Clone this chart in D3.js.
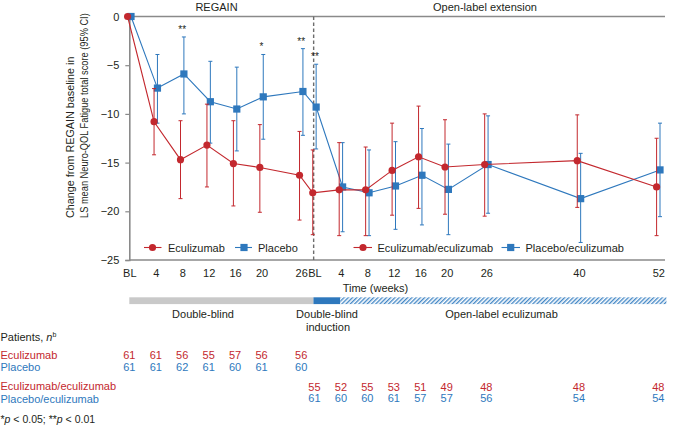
<!DOCTYPE html>
<html>
<head>
<meta charset="utf-8">
<script src="https://cdn.jsdelivr.net/npm/d3@7"></script>
<style>
  body { margin: 0; background: #fff; }
  svg { display: block; font-family: "Liberation Sans", Arial, Helvetica, sans-serif; }
</style>
</head>
<body>
<svg id="chart" width="673" height="427"></svg>
<script>
// ---------- DATA ----------
const regainLabels = ["BL", "4", "8", "12", "16", "20", "26"];
const regainWeeks = [0, 4, 8, 12, 16, 20, 26];
const oleLabels = ["BL", "4", "8", "12", "16", "20", "26", "40", "52"];
const oleWeeks = [0, 4, 8, 12, 16, 20, 26, 40, 52];
const oleOffset = 28; // OLE baseline position on the continuous time axis

const ecuMean = [0, -10.8, -14.7, -13.2, -15.1, -15.5, -16.3];
const ecuLo   = [0, -14.2, -18.7, -17.5, -19.45, -20.1, -20.9];
const ecuHi   = [0, -7.4, -10.7, -9.0, -10.7, -11.1, -11.8];

const plaMean = [0, -7.35, -5.9, -8.75, -9.5, -8.25, -7.7];
const plaLo   = [0, -10.95, -10.0, -13.0, -13.8, -12.6, -12.2];
const plaHi   = [0, -3.9, -2.1, -4.6, -5.2, -3.9, -3.3];

const ecuEcuMean = [-18.1, -17.8, -17.8, -15.8, -14.4, -15.45, -15.2, -14.8, -17.5];
const ecuEcuLo   = [-22.4, -22.5, -22.5, -20.4, -19.7, -20.3, -20.5, -19.6, -22.5];
const ecuEcuHi   = [-13.7, -12.95, -13.4, -10.95, -9.2, -10.6, -10.0, -10.1, -12.5];

const plaEcuMean = [-9.3, -17.5, -18.1, -17.4, -16.3, -17.75, -15.2, -18.7, -15.75];
const plaEcuLo   = [-13.6, -22.1, -22.5, -21.85, -21.4, -22.4, -20.2, -23.2, -20.55];
const plaEcuHi   = [-4.9, -12.95, -13.7, -12.85, -11.5, -13.1, -10.2, -14.05, -10.95];

// significance markers (placed above placebo CI): REGAIN weeks 8, 20, 26 and OLE baseline
const sigPositions = [8, 20, 26, oleOffset];
const sigLabels = ["**", "*", "**", "**"];

const regainEcuN = [61, 61, 56, 55, 57, 56, 56];
const regainPlaN = [61, 61, 62, 61, 60, 61, 60];
const oleEcuN = [55, 52, 55, 53, 51, 49, 48, 48, 48];
const olePlaN = [61, 60, 60, 61, 57, 57, 56, 54, 54];

const yTicks = [0, -5, -10, -15, -20, -25];

// ---------- SETUP ----------
const RED = "#c3282e", BLUE = "#2e78bd", TXT = "#231f20", AX = "#8a8a8a";
const svg = d3.select("#chart");

const x = d3.scaleLinear().domain([0, 80]).range([129.3, 658.3]);
const y = d3.scaleLinear().domain([-25, 0]).range([260, 16.5]);
const xRight = 665;

// pattern for open-label hatched band
const defs = svg.append("defs");
const pat = defs.append("pattern").attr("id", "hatch")
  .attr("patternUnits", "userSpaceOnUse").attr("width", 3).attr("height", 3)
  .attr("patternTransform", "rotate(45)");
pat.append("rect").attr("width", 3).attr("height", 3).attr("fill", "#ffffff");
pat.append("line").attr("x1", 0.7).attr("y1", 0).attr("x2", 0.7).attr("y2", 3)
  .attr("stroke", "#3a82c4").attr("stroke-width", 1.3);

// combine series
const allWeeksT = regainWeeks.concat(oleWeeks.map(w => w + oleOffset));
const tickLabels = regainLabels.concat(oleLabels);
function mk(t, m, lo, hi) { return t.map((tt, i) => ({ t: tt, m: m[i], lo: lo[i], hi: hi[i] })); }
const ecuSeries = mk(regainWeeks, ecuMean, ecuLo, ecuHi)
  .concat(mk(oleWeeks.map(w => w + oleOffset), ecuEcuMean, ecuEcuLo, ecuEcuHi));
const plaSeries = mk(regainWeeks, plaMean, plaLo, plaHi)
  .concat(mk(oleWeeks.map(w => w + oleOffset), plaEcuMean, plaEcuLo, plaEcuHi));

// ---------- AXES ----------
const yAxis = svg.append("g").attr("transform", `translate(${x(0)},0)`)
  .call(d3.axisLeft(y).tickValues(yTicks).tickSize(4).tickPadding(6)
    .tickFormat(d => d === 0 ? "0" : "\u2212" + Math.abs(d)));
yAxis.select(".domain").attr("stroke", AX).attr("stroke-width", 1.6);
yAxis.selectAll(".tick line").attr("stroke", AX).attr("stroke-width", 1.2);
yAxis.selectAll(".tick text").attr("fill", TXT).style("font-size", "11px");

const xAxis = svg.append("g").attr("transform", `translate(0,${y(-25)})`)
  .call(d3.axisBottom(x).tickValues(allWeeksT).tickSize(0).tickPadding(9)
    .tickFormat((d, i) => tickLabels[i]));
xAxis.select(".domain").remove();
xAxis.selectAll(".tick text").attr("fill", TXT).style("font-size", "11px");

// bottom axis line and top zero line
svg.append("line").attr("x1", x(0)).attr("x2", xRight).attr("y1", y(-25)).attr("y2", y(-25))
  .attr("stroke", AX).attr("stroke-width", 1.6);
svg.append("line").attr("x1", x(0)).attr("x2", xRight).attr("y1", y(0)).attr("y2", y(0))
  .attr("stroke", AX).attr("stroke-width", 1.6);

// dashed separator at OLE baseline
svg.append("line").attr("x1", x(oleOffset) - 0.8).attr("x2", x(oleOffset) - 0.8)
  .attr("y1", y(0)).attr("y2", y(-25))
  .attr("stroke", "#6d6d6d").attr("stroke-width", 1.4).attr("stroke-dasharray", "3.5,2.5");

// period headers
svg.append("text").attr("x", 216.5).attr("y", 10.5).attr("text-anchor", "middle")
  .attr("fill", TXT).style("font-size", "11px").text("REGAIN");
svg.append("text").attr("x", 485).attr("y", 10.5).attr("text-anchor", "middle")
  .attr("fill", TXT).style("font-size", "11px").text("Open-label extension");

// y-axis title, each line horizontally condensed to its extent in the reference
function yTitle(bx, target, label) {
  const t = svg.append("text").attr("fill", TXT).style("font-size", "10.8px").text(label);
  const natural = t.node().getComputedTextLength();
  const sx = Math.min(1, target / natural);
  t.attr("transform", `translate(${bx},218) rotate(-90) scale(${sx},1)`);
}
yTitle(74, 167, "Change from REGAIN baseline in");
yTitle(87.5, 205, "LS mean Neuro-QOL Fatigue total score (95% CI)");

// ---------- SERIES ----------
function drawSeries(data, color, dx, shape) {
  const g = svg.append("g");
  const withCI = data.filter(d => d.lo !== d.hi);
  g.selectAll(".eb").data(withCI).enter().append("line")
    .attr("x1", d => x(d.t) + dx).attr("x2", d => x(d.t) + dx)
    .attr("y1", d => y(d.lo)).attr("y2", d => y(d.hi))
    .attr("stroke", color).attr("stroke-width", 1);
  ["lo", "hi"].forEach(k => {
    g.selectAll(".cap" + k).data(withCI).enter().append("line")
      .attr("x1", d => x(d.t) + dx - 2).attr("x2", d => x(d.t) + dx + 2)
      .attr("y1", d => y(d[k])).attr("y2", d => y(d[k]))
      .attr("stroke", color).attr("stroke-width", 1);
  });
  g.append("path").datum(data)
    .attr("d", d3.line().x(d => x(d.t) + dx).y(d => y(d.m)))
    .attr("fill", "none").attr("stroke", color).attr("stroke-width", 1.1);
  if (shape === "circle") {
    g.selectAll(".mk").data(data).enter().append("circle")
      .attr("cx", d => x(d.t) + dx).attr("cy", d => y(d.m)).attr("r", 3.6).attr("fill", color);
  } else {
    g.selectAll(".mk").data(data).enter().append("rect")
      .attr("x", d => x(d.t) + dx - 3.6).attr("y", d => y(d.m) - 3.6)
      .attr("width", 7.2).attr("height", 7.2).attr("fill", color);
  }
}
drawSeries(plaSeries, BLUE, 1.7, "square");
drawSeries(ecuSeries, RED, -1.7, "circle");

// significance stars
sigPositions.forEach((t, i) => {
  const d = plaSeries.find(p => p.t === t);
  svg.append("text").attr("x", x(t) + (t === oleOffset ? 0.5 : 0)).attr("y", y(d.hi) - 4)
    .attr("text-anchor", "middle").attr("fill", TXT).style("font-size", "10px")
    .text(sigLabels[i]);
});

// ---------- LEGENDS ----------
function legendItem(x1, x2, cx, tx, color, shape, label) {
  const ly = 247.5;
  svg.append("line").attr("x1", x1).attr("x2", x2).attr("y1", ly).attr("y2", ly)
    .attr("stroke", color).attr("stroke-width", 1.1);
  if (shape === "circle") svg.append("circle").attr("cx", cx).attr("cy", ly).attr("r", 3.6).attr("fill", color);
  else svg.append("rect").attr("x", cx - 3.6).attr("y", ly - 3.6).attr("width", 7.2).attr("height", 7.2).attr("fill", color);
  svg.append("text").attr("x", tx).attr("y", ly + 4).attr("fill", TXT).style("font-size", "11px").text(label);
}
legendItem(144, 161.5, 152.5, 168, RED, "circle", "Eculizumab");
legendItem(235, 252, 244, 258, BLUE, "square", "Placebo");
legendItem(353.5, 372, 363, 377.5, RED, "circle", "Eculizumab/eculizumab");
legendItem(501.5, 520, 510.7, 525.5, BLUE, "square", "Placebo/eculizumab");

// ---------- TIME LABEL & PERIOD BAND ----------
svg.append("text").attr("x", 375.5).attr("y", 292).attr("text-anchor", "middle")
  .attr("fill", TXT).style("font-size", "11px").text("Time (weeks)");
const bandY = 297.3, bandH = 6.8;
svg.append("rect").attr("x", x(0)).attr("y", bandY).attr("width", x(oleOffset) - 1 - x(0)).attr("height", bandH).attr("fill", "#c9c9c9");
svg.append("rect").attr("x", x(oleOffset) - 1).attr("y", bandY).attr("width", x(oleOffset + 4) - x(oleOffset) + 0.4).attr("height", bandH).attr("fill", "#2e78bd");
svg.append("rect").attr("x", x(oleOffset + 4) - 0.6).attr("y", bandY).attr("width", 667 - x(oleOffset + 4)).attr("height", bandH).attr("fill", "url(#hatch)");

svg.append("text").attr("x", 203).attr("y", 317.5).attr("text-anchor", "middle")
  .attr("fill", TXT).style("font-size", "11px").text("Double-blind");
svg.append("text").attr("x", 327).attr("y", 317.5).attr("text-anchor", "middle")
  .attr("fill", TXT).style("font-size", "11px").text("Double-blind");
svg.append("text").attr("x", 328).attr("y", 330.7).attr("text-anchor", "middle")
  .attr("fill", TXT).style("font-size", "11px").text("induction");
svg.append("text").attr("x", 501.5).attr("y", 317.5).attr("text-anchor", "middle")
  .attr("fill", TXT).style("font-size", "11px").text("Open-label eculizumab");

// ---------- PATIENT NUMBERS ----------
const pt = svg.append("text").attr("x", 0.5).attr("y", 340.7).attr("fill", TXT).style("font-size", "11px");
pt.append("tspan").text("Patients, ");
pt.append("tspan").style("font-style", "italic").text("n");
pt.append("tspan").attr("dy", -4).style("font-size", "7px").text("b");

function rowLabel(yy, color, label) {
  svg.append("text").attr("x", 0.5).attr("y", yy).attr("fill", color).style("font-size", "11px").text(label);
}
rowLabel(359, RED, "Eculizumab");
rowLabel(371.3, BLUE, "Placebo");
rowLabel(390.3, RED, "Eculizumab/eculizumab");
rowLabel(402.5, BLUE, "Placebo/eculizumab");

function numRow(weeks, vals, yy, color) {
  svg.append("g").selectAll("text").data(vals).enter().append("text")
    .attr("x", (d, i) => x(weeks[i])).attr("y", yy).attr("text-anchor", "middle")
    .attr("fill", color).style("font-size", "11px").text(d => d);
}
numRow(regainWeeks, regainEcuN, 359, RED);
numRow(regainWeeks, regainPlaN, 371.3, BLUE);
numRow(oleWeeks.map(w => w + oleOffset), oleEcuN, 390.7, RED);
numRow(oleWeeks.map(w => w + oleOffset), olePlaN, 402.3, BLUE);

// footnote
const fn = svg.append("text").attr("x", 0.5).attr("y", 423).attr("fill", TXT).style("font-size", "10.5px");
fn.append("tspan").text("*");
fn.append("tspan").style("font-style", "italic").text("p");
fn.append("tspan").text(" < 0.05; **");
fn.append("tspan").style("font-style", "italic").text("p");
fn.append("tspan").text(" < 0.01");
</script>
</body>
</html>
